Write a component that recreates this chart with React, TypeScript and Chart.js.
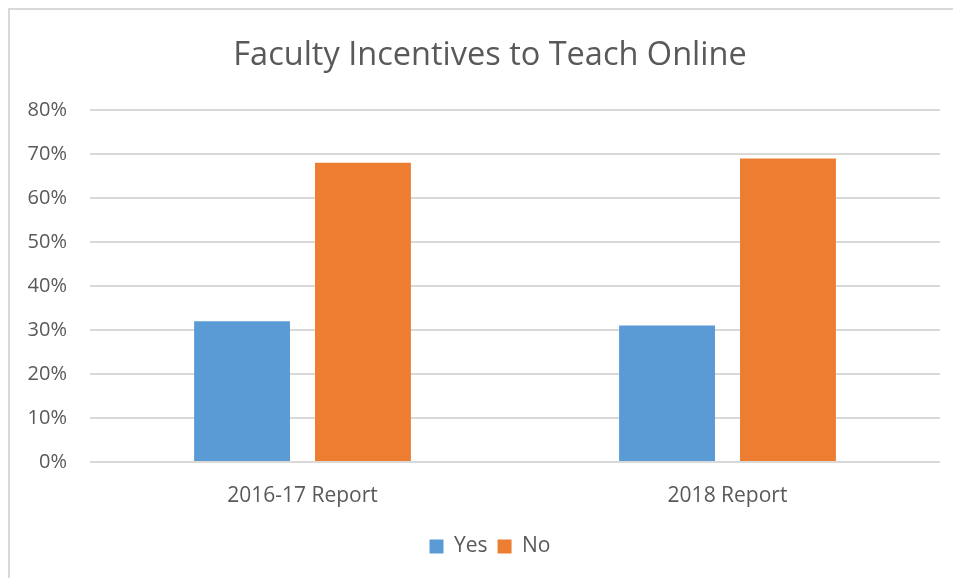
import React, { useEffect, useRef } from "react";
import { Chart, registerables } from "chart.js";

Chart.register(...registerables);

const categories = ["2016-17 Report", "2018 Report"];
const yesValues = [32, 31];
const noValues = [68, 69];
const seriesNames = ["Yes", "No"];
const yTickMax = 80;
const yTickStep = 10;
const titleText = "Faculty Incentives to Teach Online";

const W = 951;
const H = 568;

export default function App() {
  const ref = useRef<HTMLCanvasElement | null>(null);

  useEffect(() => {
    if (!ref.current) return;
    const chart = new Chart(ref.current, {
      type: "bar",
      data: {
        labels: categories,
        datasets: [
          {
            label: seriesNames[0],
            data: yesValues,
            backgroundColor: "#5B9BD5",
            borderWidth: 0,
            categoryPercentage: 0.569,
            barPercentage: 0.793,
          },
          {
            label: seriesNames[1],
            data: noValues,
            backgroundColor: "#ED7D31",
            borderWidth: 0,
            categoryPercentage: 0.569,
            barPercentage: 0.793,
          },
        ],
      },
      options: {
        responsive: false,
        animation: false,
        devicePixelRatio: 1,
        layout: { padding: { left: 16, right: 7, top: 0, bottom: 11 } },
        plugins: {
          title: {
            display: true,
            text: titleText,
            color: "#595959",
            font: { family: "'Open Sans'", size: 32.5, weight: "normal", lineHeight: 1.2 },
            padding: { top: 26, bottom: 35 },
          },
          legend: {
            display: true,
            position: "bottom",
            labels: {
              color: "#595959",
              font: { family: "'Open Sans'", size: 21 },
              boxWidth: 14,
              boxHeight: 14,
              padding: 10,
            },
          },
          tooltip: { enabled: false },
        },
        scales: {
          x: {
            grid: { display: false },
            border: { display: false },
            ticks: {
              color: "#595959",
              font: { family: "'Open Sans'", size: 21 },
              padding: 13,
            },
            afterFit: (scale: any) => {
              scale.height = 64;
            },
          },
          y: {
            min: 0,
            max: yTickMax,
            grid: { color: "#d9d9d9", lineWidth: 2, drawTicks: false },
            border: { display: false },
            ticks: {
              stepSize: yTickStep,
              color: "#595959",
              font: { family: "'Open Sans'", size: 20 },
              padding: 23,
              callback: (v: any) => v + "%",
            },
            afterFit: (scale: any) => {
              scale.width = 64;
            },
          },
          yRight: {
            position: "right",
            min: 0,
            max: yTickMax,
            grid: { display: false, drawTicks: false },
            border: { display: false },
            ticks: { display: false },
            afterFit: (scale: any) => {
              scale.width = 14;
            },
          },
        },
      },
    });
    return () => chart.destroy();
  }, []);

  return (
    <div
      style={{
        width: W,
        height: H,
        borderTop: "2px solid #d9d9d9",
        borderLeft: "2px solid #d9d9d9",
        background: "#fff",
      }}
    >
      <canvas ref={ref} width={W} height={H} style={{ display: "block", width: W, height: H }} />
    </div>
  );
}
